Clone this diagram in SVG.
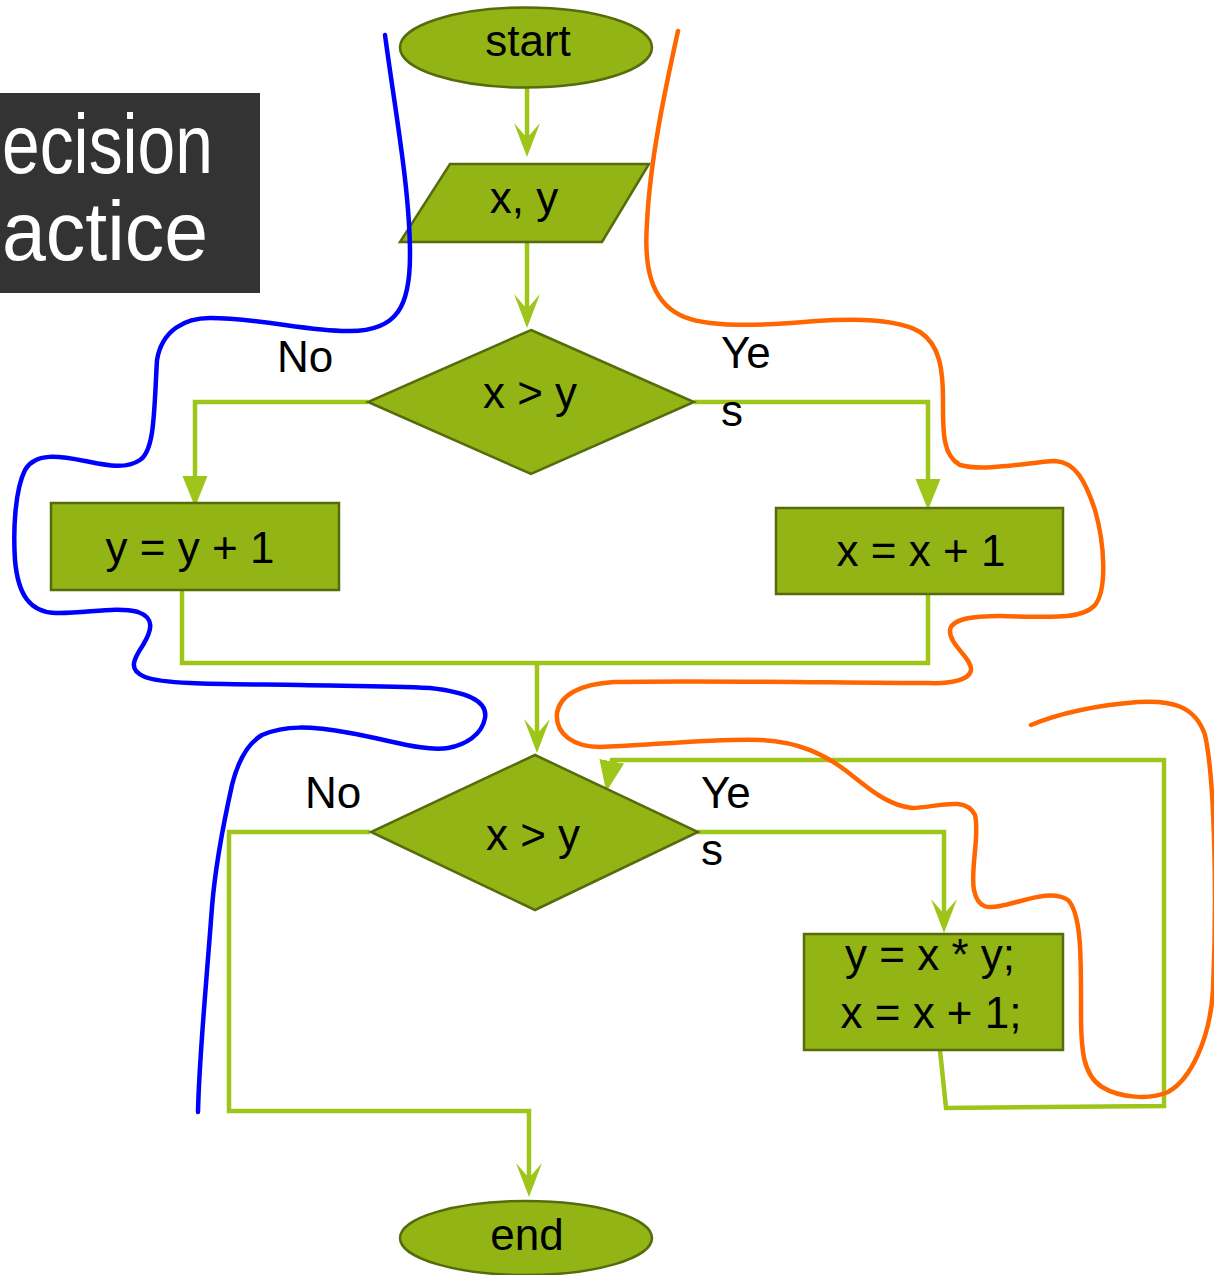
<svg xmlns="http://www.w3.org/2000/svg" width="1214" height="1275" viewBox="0 0 1214 1275">
  <style>
    .node { fill: #92B414; stroke: #566B0C; stroke-width: 2.5; }
    .lbl { font-family: "Liberation Sans", Arial, sans-serif; font-size: 44px; fill: #000; }
    .mid { text-anchor: middle; }
    .conn { fill: none; stroke: #9EC51A; stroke-width: 4.5; stroke-linejoin: miter; }
    .pen { fill: none; stroke-width: 4.5; stroke-linecap: round; stroke-linejoin: round; }
    .title { font-family: "Liberation Sans", Arial, sans-serif; font-size: 84px; fill: #FFFFFF; }
  </style>
  <defs>
    <!-- swept arrowhead with a notched back -->
    <marker id="stealth" markerUnits="userSpaceOnUse" orient="auto" markerWidth="40" markerHeight="30" refX="24" refY="13" viewBox="0 0 40 30">
      <path d="M0,0 L34,13 L0,26 L15,13 Z" fill="#9EC51A"/>
    </marker>
    <!-- plain triangular arrowhead -->
    <marker id="tri" markerUnits="userSpaceOnUse" orient="auto" markerWidth="40" markerHeight="30" refX="21" refY="12.5" viewBox="0 0 40 30">
      <path d="M0,0 L31,12.5 L0,25 Z" fill="#9EC51A"/>
    </marker>
  </defs>

  <rect width="1214" height="1275" fill="#FFFFFF"/>

  <!-- title banner at the left edge -->
  <g id="title">
    <rect x="0" y="93" width="260" height="200" fill="#333333"/>
    <text class="title" x="2" y="173" textLength="211" lengthAdjust="spacingAndGlyphs">ecision</text>
    <text class="title" x="2" y="260" textLength="206" lengthAdjust="spacingAndGlyphs">actice</text>
  </g>

  <!-- connectors -->
  <g id="connectors">
    <path class="conn" d="M527,88 V147" marker-end="url(#stealth)"/>
    <path class="conn" d="M527,242 V318" marker-end="url(#stealth)"/>
    <path class="conn" d="M368,402 H195 V497" marker-end="url(#tri)"/>
    <path class="conn" d="M694,402 H928 V500" marker-end="url(#tri)"/>
    <path class="conn" d="M182,590 V663 H928 V594"/>
    <path class="conn" d="M537,663 V743" marker-end="url(#stealth)"/>
    <path class="conn" d="M370,832 H229 V1111 H529 V1187" marker-end="url(#stealth)"/>
    <path class="conn" d="M697,832 H944 V923" marker-end="url(#stealth)"/>
    <path class="conn" d="M940,1050 L946,1108 L1164,1106 V760 H612 L608,782" marker-end="url(#tri)"/>
  </g>

  <!-- nodes -->
  <g id="start">
    <ellipse class="node" cx="526" cy="47.5" rx="126" ry="40"/>
    <text class="lbl mid" x="528" y="56">start</text>
  </g>
  <g id="input-xy">
    <polygon class="node" points="450,164 649,164 602,242 400,242"/>
    <text class="lbl mid" x="524" y="213">x, y</text>
  </g>
  <g id="decision-1">
    <polygon class="node" points="531,330 694,402 531,474 368,402"/>
    <text class="lbl mid" x="530" y="408">x &gt; y</text>
  </g>
  <g id="inc-y">
    <rect class="node" x="51" y="503" width="288" height="87"/>
    <text class="lbl mid" x="190" y="563">y = y + 1</text>
  </g>
  <g id="inc-x">
    <rect class="node" x="776" y="508" width="287" height="86"/>
    <text class="lbl mid" x="921" y="566">x = x + 1</text>
  </g>
  <g id="decision-2">
    <polygon class="node" points="535,755 698,832 535,910 371,832"/>
    <text class="lbl mid" x="533" y="850">x &gt; y</text>
  </g>
  <g id="update">
    <rect class="node" x="804" y="934" width="259" height="116"/>
    <text class="lbl mid" x="930" y="970">y = x * y;</text>
    <text class="lbl mid" x="931" y="1028">x = x + 1;</text>
  </g>
  <g id="end">
    <ellipse class="node" cx="526" cy="1238" rx="126" ry="37"/>
    <text class="lbl mid" x="527" y="1250">end</text>
  </g>

  <!-- branch labels -->
  <g id="labels">
    <text class="lbl" x="277" y="372">No</text>
    <text class="lbl" x="721" y="368">Ye</text>
    <text class="lbl" x="721" y="426">s</text>
    <text class="lbl" x="305" y="808">No</text>
    <text class="lbl" x="701" y="808">Ye</text>
    <text class="lbl" x="701" y="865">s</text>
  </g>

  <!-- freehand strokes drawn over the chart -->
  <path id="blue-stroke" class="pen" stroke="#0000FF" d="M385,35 C395,110 410,190 410,255 C410,305 398,331 350,331 C310,332 260,318 210,318 C185,318 162,330 157,360 C154,410 155,450 140,460 C125,470 105,465 85,461 C60,456 35,452 25,470 C15,490 13,530 15,560 C18,595 30,612 55,613 C85,614 115,606 138,612 C155,618 152,630 143,645 C133,660 128,670 145,677 C165,685 230,684 300,685 C350,686 390,686 430,688 C465,692 488,700 485,718 C482,735 465,745 448,748 C425,752 390,740 350,733 C310,726 285,725 262,735 C245,745 237,765 232,785 C222,830 215,870 212,907 C205,1000 199,1060 198,1112"/>
  <path id="orange-stroke" class="pen" stroke="#FF6600" d="M678,31 C665,90 650,160 647,223 C644,265 650,300 680,315 C705,328 760,326 816,321 C860,318 900,320 920,332 C940,345 943,370 943,400 C943,430 942,455 960,465 C985,472 1030,462 1055,461 C1075,462 1085,480 1095,510 C1105,545 1107,590 1095,605 C1082,620 1050,617 1000,616 C975,616 952,618 950,630 C949,645 972,658 971,670 C970,680 950,684 928,683 C850,683 700,680 614,682 C580,684 560,695 557,713 C555,735 575,747 600,747 C640,746 720,738 760,740 C800,742 825,755 845,770 C865,785 885,805 912,808 C935,808 965,795 975,815 C980,835 970,870 974,890 C978,910 990,908 1000,906 C1020,903 1050,888 1068,900 C1082,915 1081,960 1081,1013 C1081,1050 1083,1075 1102,1087 C1120,1098 1150,1100 1168,1092 C1190,1080 1210,1040 1213,990 C1217,900 1215,780 1205,735 C1195,705 1170,700 1138,702 C1100,705 1060,713 1031,725"/>
</svg>
